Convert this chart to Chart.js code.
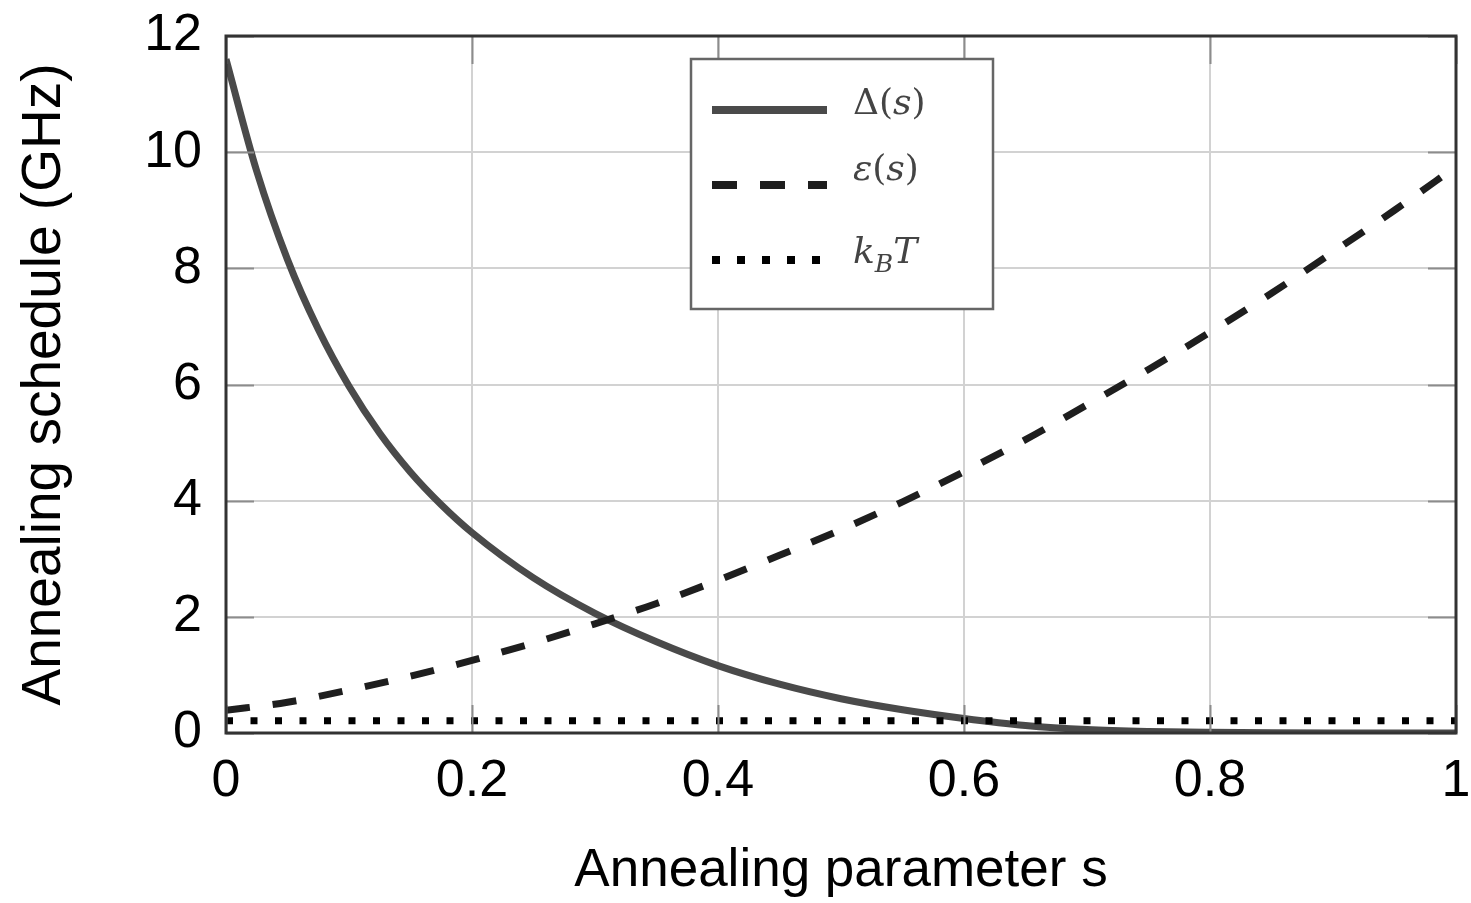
<!DOCTYPE html>
<html>
<head>
<meta charset="utf-8">
<script src="https://cdn.jsdelivr.net/npm/chart.js@4.4.1/dist/chart.umd.min.js"></script>
<style>
  html, body { margin: 0; padding: 0; background: #fff; }
  #wrap { width: 1471px; height: 903px; }
</style>
</head>
<body>
<div id="wrap"><canvas id="myChart" width="1471" height="903"></canvas></div>
<script>
// Delta(s) - amplitude transversal (GHz)
const deltaS = [0, 0.025, 0.05, 0.075, 0.1, 0.125, 0.15, 0.175, 0.2, 0.25, 0.3, 0.35, 0.4, 0.45, 0.5, 0.55, 0.6, 0.65, 0.7, 0.75, 0.8, 0.85, 0.9, 1.0];
const deltaValues = [11.6, 9.67, 8.15, 6.95, 5.97, 5.16, 4.49, 3.93, 3.45, 2.67, 2.06, 1.57, 1.16, 0.84, 0.59, 0.4, 0.25, 0.13, 0.06, 0.027, 0.012, 0.005, 0.002, 0];

// epsilon(s)
const epsS = [0, 0.05, 0.1, 0.15, 0.2, 0.25, 0.3, 0.35, 0.4, 0.45, 0.5, 0.55, 0.6, 0.65, 0.7, 0.75, 0.8, 0.85, 0.9, 0.95, 1.0];
const epsValues = [0.39, 0.53, 0.74, 0.98, 1.25, 1.55, 1.88, 2.23, 2.63, 3.06, 3.5, 3.98, 4.5, 5.05, 5.65, 6.26, 6.9, 7.57, 8.28, 9.0, 9.75];

// temperatura kB*T (constante)
const kbtS = [0, 1];
const kbtValues = [0.21, 0.21];

const xTicks = [0, 0.2, 0.4, 0.6, 0.8, 1];
const yTicks = [0, 2, 4, 6, 8, 10, 12];

const legendItems = ['Δ(s)', 'ε(s)', 'kBT'];

const pts = (xs, ys) => xs.map((x, i) => ({ x: x, y: ys[i] }));

// moldura, marcas internas e legenda
const framePlugin = {
    id: 'frame',
    afterDatasetsDraw(chart) {
        const { ctx, chartArea: a, scales } = chart;
        ctx.save();
        // marcas internas
        ctx.strokeStyle = '#8c8c8c';
        ctx.lineWidth = 2;
        const tl = 28;
        yTicks.forEach(v => {
            const y = Math.round(scales.y.getPixelForValue(v)) + 0.5;
            ctx.beginPath();
            ctx.moveTo(a.left, y); ctx.lineTo(a.left + tl, y);
            ctx.moveTo(a.right, y); ctx.lineTo(a.right - tl, y);
            ctx.stroke();
        });
        xTicks.forEach(v => {
            const x = Math.round(scales.x.getPixelForValue(v)) + 0.5;
            ctx.beginPath();
            ctx.moveTo(x, a.bottom); ctx.lineTo(x, a.bottom - tl);
            ctx.moveTo(x, a.top); ctx.lineTo(x, a.top + tl);
            ctx.stroke();
        });
        // moldura
        ctx.strokeStyle = '#333';
        ctx.lineWidth = 3;
        ctx.strokeRect(a.left, a.top, a.right - a.left, a.bottom - a.top);

        // legenda
        const bx = 691, by = 59, bw = 302, bh = 250;
        ctx.fillStyle = '#fff';
        ctx.fillRect(bx, by, bw, bh);
        ctx.strokeStyle = '#666';
        ctx.lineWidth = 2.5;
        ctx.strokeRect(bx, by, bw, bh);

        const x0 = 712, x1 = 827;
        // linha continua
        ctx.lineWidth = 8;
        ctx.lineCap = 'butt';
        ctx.strokeStyle = '#4a4a4a';
        ctx.setLineDash([]);
        ctx.beginPath(); ctx.moveTo(x0, 110); ctx.lineTo(x1, 110); ctx.stroke();
        // tracejada
        ctx.strokeStyle = '#1e1e1e';
        ctx.setLineDash([25, 23]);
        ctx.beginPath(); ctx.moveTo(x0, 185); ctx.lineTo(x1, 185); ctx.stroke();
        // pontilhada
        ctx.strokeStyle = '#000';
        ctx.setLineDash([8, 17]);
        ctx.beginPath(); ctx.moveTo(x0, 260); ctx.lineTo(x1 - 5, 260); ctx.stroke();
        ctx.setLineDash([]);

        ctx.fillStyle = '#444';
        ctx.textBaseline = 'alphabetic';
        ctx.textAlign = 'left';
        const up = '36px "DejaVu Serif"';
        const it = 'italic 36px "DejaVu Serif"';
        const drawParts = (parts, x, y) => {
            parts.forEach(p => {
                ctx.font = p[1];
                ctx.fillText(p[0], x, y + (p[2] || 0));
                x += ctx.measureText(p[0]).width;
            });
        };
        drawParts([[legendItems[0].charAt(0), up], ['(', up], ['s', it], [')', up]], 853, 114);
        drawParts([[legendItems[1].charAt(0), it], ['(', up], ['s', it], [')', up]], 853, 180);
        drawParts([['k', it], ['B', 'italic 25px "DejaVu Serif"', 9], ['T', it]], 853, 263);
        ctx.restore();
    }
};

const data = {
    datasets: [
        {
            label: legendItems[2],
            data: pts(kbtS, kbtValues),
            borderColor: '#000',
            borderWidth: 7,
            borderDash: [7, 17.5],
            pointRadius: 0,
            order: 0
        },
        {
            label: legendItems[1],
            data: pts(epsS, epsValues),
            borderColor: '#1e1e1e',
            borderWidth: 7,
            borderDash: [24, 23],
            pointRadius: 0,
            cubicInterpolationMode: 'monotone',
            order: 1
        },
        {
            label: legendItems[0],
            data: pts(deltaS, deltaValues),
            borderColor: '#4a4a4a',
            borderWidth: 7,
            pointRadius: 0,
            cubicInterpolationMode: 'monotone',
            order: 2
        }
    ]
};

const config = {
    type: 'line',
    data: data,
    options: {
        responsive: false,
        animation: false,
        layout: { padding: { top: 36, right: 15, left: 0, bottom: 0 } },
        scales: {
            x: {
                type: 'linear',
                min: 0,
                max: 1,
                afterBuildTicks: scale => { scale.ticks = xTicks.map(v => ({ value: v })); },
                afterFit: scale => {
                    scale.height = 170;
                    scale.paddingLeft = 0;
                    scale.paddingRight = 0;
                },
                ticks: {
                    color: '#000',
                    padding: 17,
                    maxRotation: 0,
                    font: { family: '"Liberation Sans", Arial', size: 52 },
                    callback: v => String(v)
                },
                grid: { color: '#d2d2d2', lineWidth: 2, drawTicks: false },
                border: { display: false },
                title: {
                    display: true,
                    text: 'Annealing parameter s',
                    color: '#000',
                    padding: { top: 0, bottom: 0 },
                    font: { family: '"Liberation Sans", Arial', size: 53 }
                }
            },
            y: {
                min: 0,
                max: 12,
                afterBuildTicks: scale => { scale.ticks = yTicks.map(v => ({ value: v })); },
                afterFit: scale => {
                    scale.width = 226;
                    scale.paddingTop = 0;
                    scale.paddingBottom = 0;
                },
                ticks: {
                    color: '#000',
                    padding: 24,
                    font: { family: '"Liberation Sans", Arial', size: 52 }
                },
                grid: { color: '#d2d2d2', lineWidth: 2, drawTicks: false },
                border: { display: false },
                title: {
                    display: true,
                    text: 'Annealing schedule (GHz)',
                    color: '#000',
                    padding: { top: 12, bottom: 0 },
                    font: { family: '"Liberation Sans", Arial', size: 55 }
                }
            }
        },
        plugins: {
            legend: { display: false },
            tooltip: { enabled: false }
        }
    },
    plugins: [framePlugin]
};

const myChart = new Chart(
    document.getElementById('myChart'),
    config
);
</script>
</body>
</html>
